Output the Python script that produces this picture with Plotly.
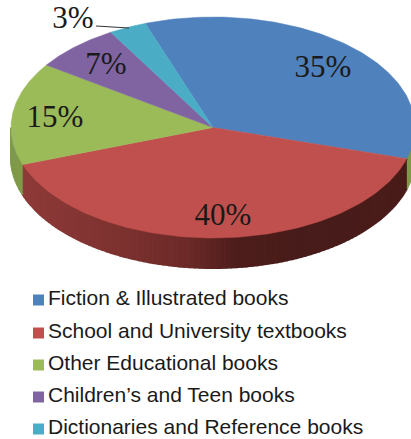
import numpy as np
import plotly.graph_objects as go

categories = ["Fiction & Illustrated books", "School and University textbooks",
              "Other Educational books", "Children\u2019s and Teen books",
              "Dictionaries and Reference books"]
shares = [35, 40, 15, 7, 3]
colors = ["#4f81bd", "#c0504d", "#9bbb59", "#8064a2", "#4bacc6"]

# Pie geometry in page pixels
CX, CY, RX, RY, DEPTH = 213, 127.5, 202, 110.5, 30
START = -19.6
label_pos = [(323, 69), (223, 217), (55, 119), (106, 66), (73, 20)]
legend_y = [300, 333, 365, 397, 429]
wall_stops_x = [11, 24, 130, 190, 235, 300, 415]
red_wall = [(142, 59, 57), (142, 59, 57), (123, 49, 47), (107, 42, 40), (78, 30, 28), (72, 28, 26), (74, 29, 27)]


def ex(a):
    return CX + RX * np.sin(np.radians(a))


def ey(a):
    return CY - RY * np.cos(np.radians(a))


fig = go.Figure()

edges = START + np.cumsum([0] + shares) * 3.6

# Side wall: narrow strips along the front of the ellipse, shaded by position
for i, share in enumerate(shares):
    a0, a1 = max(edges[i], 90), min(edges[i + 1], 270)
    if a1 <= a0:
        continue
    steps = int((a1 - a0) / 1.5) + 1
    grid = np.linspace(a0, a1, steps + 1)
    for s0, s1 in zip(grid[:-1], grid[1:]):
        arc = np.linspace(s0, s1, 4)
        xs = np.r_[ex(arc), ex(arc[::-1])]
        ys = np.r_[ey(arc), ey(arc[::-1]) + DEPTH]
        if i == 1:
            xm = ex((s0 + s1) / 2)
            rgb = [np.interp(xm, wall_stops_x, [c[k] for c in red_wall]) for k in range(3)]
            col = "rgb(%d,%d,%d)" % tuple(rgb)
        else:
            col = "#7f9a48"
        fig.add_trace(go.Scatter(x=xs, y=ys, mode="lines", fill="toself", fillcolor=col,
                                 line=dict(color=col, width=2), hoverinfo="skip", showlegend=False))

# Top face slices
for i, (cat, col) in enumerate(zip(categories, colors)):
    arc = np.linspace(edges[i], edges[i + 1], 120)
    fig.add_trace(go.Scatter(x=np.r_[CX, ex(arc), CX], y=np.r_[CY, ey(arc), CY], mode="lines",
                             fill="toself", fillcolor=col, line=dict(color=col, width=0.5),
                             name=cat, hoverinfo="name", showlegend=False))

# Leader line for the smallest slice
fig.add_trace(go.Scatter(x=[96, 129], y=[26, 28], mode="lines",
                         line=dict(color="#333333", width=1), hoverinfo="skip", showlegend=False))

# Percent labels
fig.add_trace(go.Scatter(x=[p[0] for p in label_pos], y=[p[1] for p in label_pos], mode="text",
                         text=[f"{v}%" for v in shares], textposition="middle center",
                         textfont=dict(family="Liberation Serif", size=31, color="#1a1a1a"),
                         hoverinfo="skip", showlegend=False))

# Legend rows
for cat, col, y in zip(categories, colors, legend_y):
    fig.add_trace(go.Scatter(x=[38.5], y=[y], mode="markers",
                             marker=dict(symbol="square", size=11, color=col),
                             hoverinfo="skip", showlegend=False))
    fig.add_trace(go.Scatter(x=[48], y=[y], mode="text", text=[cat], textposition="middle right",
                             textfont=dict(family="Liberation Sans", size=21, color="#1a1a1a"),
                             hoverinfo="skip", showlegend=False, cliponaxis=False))

fig.update_layout(
    width=411, height=439, margin=dict(l=0, r=0, t=0, b=0),
    paper_bgcolor="white", plot_bgcolor="white",
    xaxis=dict(range=[0, 411], visible=False, fixedrange=True),
    yaxis=dict(range=[439, 0], visible=False, fixedrange=True),
)
fig.write_html("out.html", config={"displayModeBar": False},
               post_script="document.body.style.margin='0';document.documentElement.style.overflow='hidden';")
